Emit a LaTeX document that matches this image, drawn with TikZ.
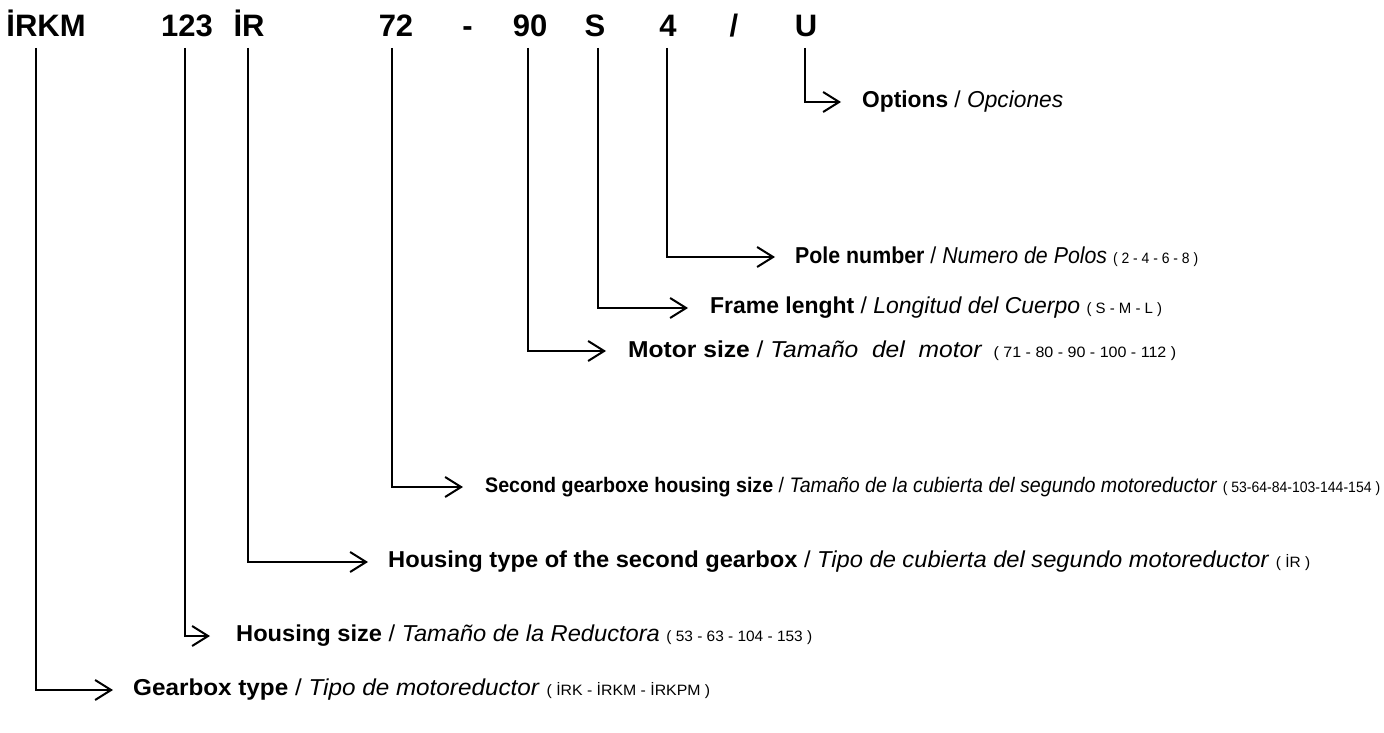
\documentclass[tikz,border=0pt]{standalone}
\usepackage{fontspec}
\setmainfont{Liberation Sans}
\usetikzlibrary{arrows.meta}
\newsavebox\lblbox
\newcommand\fitto[2]{\sbox\lblbox{#2}\pgfmathsetmacro\fitsx{#1/(\wd\lblbox)}\scalebox{\fitsx}[1]{\usebox\lblbox}}
\newcommand\lbl[3]{\textbf{#1} / \textit{#2}\ifx\relax#3\relax\else\ {\fontsize{15}{17}\selectfont #3}\fi}
\tikzset{
  code/.style={font=\bfseries\fontsize{31}{35}\selectfont, anchor=base, inner sep=0pt},
  label/.style={font=\fontsize{23}{26}\selectfont, anchor=west, inner sep=0pt},
  smalllabel/.style={label, font=\fontsize{21}{24}\selectfont},
  conn/.style={line width=2pt, -{Straight Barb[length=16pt,width=20pt,line width=2pt]}},
}
\begin{document}
\begin{tikzpicture}[x=1pt,y=-1pt]
\useasboundingbox (0,0) rectangle (1384,733);
% codes
\node[code] (cA) at (46,37) {İRKM};
\node[code] (cB) at (187,37) {123};
\node[code] (cC) at (249,37) {İR};
\node[code] (cD) at (396,37) {72};
\node[code] (cE) at (467.5,37) {-};
\node[code] (cF) at (530,37) {90};
\node[code] (cG) at (595,37) {S};
\node[code] (cH) at (668,37) {4};
\node[code] (cI) at (734,37) {/};
\node[code] (cJ) at (806,37) {U};
% line starts
\coordinate (sA) at (36,48);
\coordinate (sB) at (185,48);
\coordinate (sC) at (248,48);
\coordinate (sD) at (392,48);
\coordinate (sF) at (528,48);
\coordinate (sG) at (598,48);
\coordinate (sH) at (667,48);
\coordinate (sJ) at (805,48);
% labels
\node[label] (lJ) at (862,102) {\fitto{201}{\lbl{Options}{Opciones}{}}};
\node[label] (lH) at (795,257) {\fitto{403}{\lbl{Pole number}{Numero de Polos}{( 2 - 4 - 6 - 8 )}}};
\node[label] (lG) at (710,308) {\fitto{452}{\lbl{Frame lenght}{Longitud del Cuerpo}{( S - M - L )}}};
\node[label] (lF) at (628,351) {\fitto{548}{\lbl{Motor size}{Tamaño\ \ del\ \ motor}{\ ( 71 - 80 - 90 - 100 - 112 )}}};
\node[smalllabel] (lD) at (485,487) {\fitto{895}{\lbl{Second gearboxe housing size}{Tamaño de la cubierta del segundo motoreductor}{( 53-64-84-103-144-154 )}}};
\node[label] (lC) at (388,562) {\fitto{922}{\lbl{Housing type of the second gearbox}{Tipo de cubierta del segundo motoreductor}{( İR )}}};
\node[label] (lB) at (236,636) {\fitto{576}{\lbl{Housing size}{Tamaño de la Reductora}{( 53 - 63 - 104 - 153 )}}};
\node[label] (lA) at (133,690) {\fitto{577}{\lbl{Gearbox type}{Tipo de motoreductor}{( İRK - İRKM - İRKPM )}}};
% connectors
\draw[conn] (sJ) |- ([xshift=-21pt]lJ.west);
\draw[conn] (sH) |- ([xshift=-20pt]lH.west);
\draw[conn] (sG) |- ([xshift=-22pt]lG.west);
\draw[conn] (sF) |- ([xshift=-22pt]lF.west);
\draw[conn] (sD) |- ([xshift=-22pt]lD.west);
\draw[conn] (sC) |- ([xshift=-20pt]lC.west);
\draw[conn] (sB) |- ([xshift=-26pt]lB.west);
\draw[conn] (sA) |- ([xshift=-20pt]lA.west);
\end{tikzpicture}
\end{document}
